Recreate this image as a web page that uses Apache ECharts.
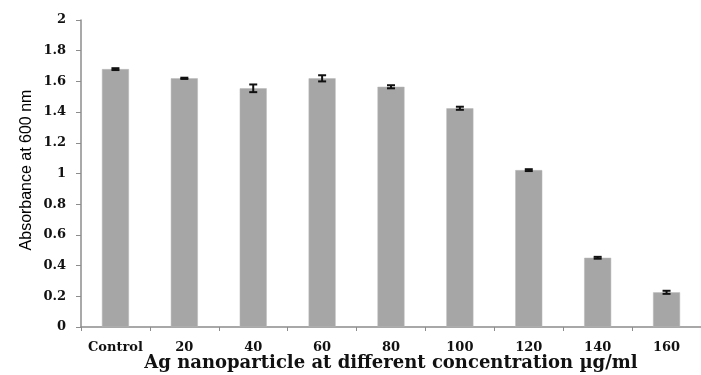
<!DOCTYPE html>
<html><head><meta charset="utf-8">
<script src="https://cdn.jsdelivr.net/npm/echarts@6/dist/echarts.min.js"></script>
<style>html,body{margin:0;padding:0;background:#fff}#c{width:701px;height:375px}</style>
</head><body><div id="c"></div>
<script>
var categories = ['Control','20','40','60','80','100','120','140','160'];
var absorbance = [1.68, 1.62, 1.555, 1.62, 1.565, 1.425, 1.022, 0.451, 0.226];
var errors = [0.006, 0.004, 0.025, 0.02, 0.01, 0.01, 0.006, 0.006, 0.01];
var yTicks = [0, 0.2, 0.4, 0.6, 0.8, 1, 1.2, 1.4, 1.6, 1.8, 2];
var yTitle = 'Absorbance at 600 nm';
var xTitle = 'Ag nanoparticle at different concentration µg/ml';

var chart = echarts.init(document.getElementById('c'));
var serif = '"DejaVu Serif","Liberation Serif",serif';
chart.setOption({
  animation: false,
  grid: {left: 81, right: 0, top: 20, bottom: 48, containLabel: false, outerBoundsMode: 'none'},
  graphic: [{
    type: 'text', x: 26, y: 170, rotation: Math.PI / 2, scaleX: 0.94,
    style: {text: yTitle, fill: '#000', align: 'center', verticalAlign: 'middle',
      font: '17px "Liberation Sans", Arial, sans-serif'}
  }],
  xAxis: {
    type: 'category', data: categories,
    axisLine: {lineStyle: {color: '#8c8c8c', width: 1.5}},
    axisTick: {show: true, length: 4, lineStyle: {color: '#8c8c8c'}},
    axisLabel: {color: '#111', fontFamily: serif, fontWeight: 'bold', fontSize: 13, margin: 14, interval: 0},
    name: xTitle,
    nameLocation: 'middle', nameGap: 36, nameMoveOverlap: false,
    nameTextStyle: {color: '#111', fontFamily: serif, fontWeight: 'bold', fontSize: 18, verticalAlign: 'middle'}
  },
  yAxis: {
    type: 'value', min: 0, max: 2, interval: 0.2,
    axisLine: {show: true, lineStyle: {color: '#8c8c8c', width: 1.5}},
    axisTick: {show: true, length: 5, lineStyle: {color: '#8c8c8c'}},
    splitLine: {show: false},
    axisLabel: {color: '#111', fontFamily: serif, fontWeight: 'bold', fontSize: 13, margin: 15,
      formatter: function(v){ var s = yTicks.find(function(t){return Math.abs(t-v)<1e-9;}); return s===undefined? '' : String(s); }}
  },
  series: [{
    type: 'bar', data: absorbance, barWidth: 27,
    itemStyle: {color: '#a6a6a6', borderColor: '#b8b8b8', borderWidth: 0.5}
  }, {
    type: 'custom',
    data: absorbance.map(function(v,i){return [i, v - errors[i], v + errors[i]];}),
    renderItem: function(params, api){
      var lo = api.coord([api.value(0), api.value(1)]);
      var hi = api.coord([api.value(0), api.value(2)]);
      var x = lo[0], hw = 4;
      var st = {stroke: '#111', lineWidth: 2};
      return {type: 'group', children: [
        {type: 'line', shape: {x1: x, y1: lo[1], x2: x, y2: hi[1]}, style: st},
        {type: 'line', shape: {x1: x-hw, y1: lo[1], x2: x+hw, y2: lo[1]}, style: st},
        {type: 'line', shape: {x1: x-hw, y1: hi[1], x2: x+hw, y2: hi[1]}, style: st}
      ]};
    },
    z: 10
  }]
});
</script></body></html>
